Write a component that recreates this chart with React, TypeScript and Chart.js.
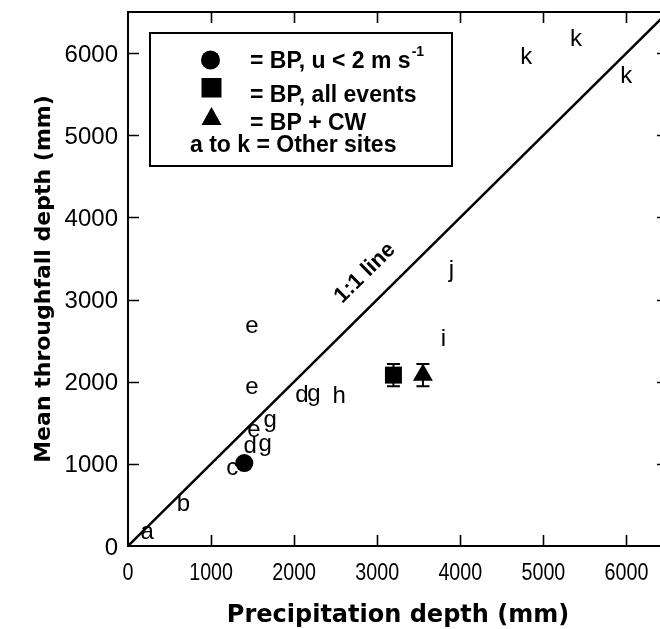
import React, { useEffect, useRef } from 'react';
import { Chart, registerables } from 'chart.js';

Chart.register(...registerables);

// ---- data ----
const axisMax = 6500;
const xTickValues = [0, 1000, 2000, 3000, 4000, 5000, 6000];
const yTickValues = [0, 1000, 2000, 3000, 4000, 5000, 6000];

const siteLetters = ['a', 'b', 'c', 'd', 'g', 'e', 'g', 'e', 'e', 'd', 'g', 'h', 'i', 'j', 'k', 'k', 'k'];
const siteX = [240, 670, 1260, 1470, 1650, 1520, 1710, 1495, 1495, 2090, 2235, 2540, 3795, 3880, 4805, 5405, 6010];
const siteY = [170, 530, 945, 1230, 1205, 1400, 1500, 1930, 2675, 1855, 1810, 1845, 2540, 3345, 5975, 6185, 5735];

const bpCalmX = [1400];
const bpCalmY = [1010];
const bpAllX = [3195];
const bpAllY = [2080];
const bpAllErr = [135];
const bpCwX = [3550];
const bpCwY = [2080];
const bpCwErr = [135];
const oneToOneLine = [0, 6500];

const legendRows = ['= BP, u < 2 m s', '= BP, all events', '= BP + CW', 'a to k = Other sites'];
const xTitle = 'Precipitation depth (mm)';
const yTitle = 'Mean throughfall depth (mm)';
const lineLabel = '1:1 line';

const SANS = '"Liberation Sans", Arial, sans-serif';

const errorBars = (chart: any, dsIndex: number, errs: number[], ys: number[]) => {
  const ctx = chart.ctx;
  const yScale = chart.scales.y;
  const meta = chart.getDatasetMeta(dsIndex);
  ctx.save();
  ctx.strokeStyle = '#000';
  ctx.lineWidth = 2;
  meta.data.forEach((pt: any, i: number) => {
    const top = yScale.getPixelForValue(ys[i] + errs[i]);
    const bot = yScale.getPixelForValue(ys[i] - errs[i]);
    ctx.beginPath();
    ctx.moveTo(pt.x, top);
    ctx.lineTo(pt.x, bot);
    ctx.moveTo(pt.x - 6.5, top);
    ctx.lineTo(pt.x + 6.5, top);
    ctx.moveTo(pt.x - 6.5, bot);
    ctx.lineTo(pt.x + 6.5, bot);
    ctx.stroke();
  });
  ctx.restore();
};

const customPlugin = {
  id: 'customDraw',
  afterDatasetDraw(chart: any, args: any) {
    const ctx = chart.ctx;
    if (args.index === 4) {
      const meta = chart.getDatasetMeta(4);
      ctx.save();
      ctx.fillStyle = '#000';
      ctx.font = '24px ' + SANS;
      ctx.textAlign = 'left';
      ctx.textBaseline = 'alphabetic';
      meta.data.forEach((pt: any, i: number) => {
        const t = siteLetters[i];
        const m = ctx.measureText(t);
        const x = pt.x - (m.actualBoundingBoxRight - m.actualBoundingBoxLeft) / 2;
        const y = pt.y + (m.actualBoundingBoxAscent - m.actualBoundingBoxDescent) / 2;
        ctx.fillText(t, x, y);
      });
      ctx.restore();
    }
    if (args.index === 3) {
      const xs = chart.scales.x;
      const ys = chart.scales.y;
      const p0x = xs.getPixelForValue(0);
      const p0y = ys.getPixelForValue(0);
      const p1x = xs.getPixelForValue(6500);
      const p1y = ys.getPixelForValue(6500);
      const ang = Math.atan2(p1y - p0y, p1x - p0x);
      ctx.save();
      ctx.translate(365, 273);
      ctx.rotate(ang);
      ctx.font = 'bold 22px ' + SANS;
      ctx.textAlign = 'center';
      ctx.textBaseline = 'middle';
      ctx.fillStyle = '#000';
      ctx.fillText(lineLabel, 0, 0);
      ctx.restore();
    }
  },
  beforeDatasetDraw(chart: any, args: any) {
    if (args.index === 1) errorBars(chart, 1, bpAllErr, bpAllY);
    if (args.index === 2) errorBars(chart, 2, bpCwErr, bpCwY);
  },
  afterDraw(chart: any) {
    const ctx = chart.ctx;
    const { left, right, top, bottom } = chart.chartArea;
    const xs = chart.scales.x;
    const ys = chart.scales.y;
    ctx.save();
    ctx.strokeStyle = '#000';
    ctx.lineWidth = 2;
    ctx.strokeRect(left, top, right - left, bottom - top);
    ctx.lineWidth = 1.6;
    ctx.beginPath();
    xTickValues.forEach((v) => {
      if (v === 0) return;
      const px = Math.round(xs.getPixelForValue(v)) + 0.5;
      ctx.moveTo(px, bottom);
      ctx.lineTo(px, bottom - 11);
      ctx.moveTo(px, top);
      ctx.lineTo(px, top + 11);
    });
    yTickValues.forEach((v) => {
      if (v === 0) return;
      const py = Math.round(ys.getPixelForValue(v)) + 0.5;
      ctx.moveTo(left, py);
      ctx.lineTo(left + 11, py);
      ctx.moveTo(right, py);
      ctx.lineTo(right - 11, py);
    });
    ctx.stroke();

    // tick labels
    ctx.fillStyle = '#000';
    ctx.font = '24px ' + SANS;
    ctx.textBaseline = 'alphabetic';
    xTickValues.forEach((v) => {
      const px = xs.getPixelForValue(v);
      ctx.save();
      ctx.translate(px, 580);
      ctx.scale(0.82, 1);
      ctx.textAlign = 'center';
      ctx.fillText(String(v), 0, 0);
      ctx.restore();
    });
    ctx.textAlign = 'right';
    yTickValues.forEach((v) => {
      const py = ys.getPixelForValue(v);
      ctx.fillText(String(v), 118, py + 8.6);
    });

    // axis titles
    ctx.font = 'bold 24px "DejaVu Sans", sans-serif';
    ctx.textAlign = 'center';
    ctx.fillText(xTitle, (left + right) / 2, 622);
    ctx.save();
    ctx.translate(50, 279);
    ctx.rotate(-Math.PI / 2);
    ctx.font = 'bold 22px "DejaVu Sans", sans-serif';
    ctx.fillText(yTitle, 0, 0);
    ctx.restore();

    // legend
    ctx.lineWidth = 2;
    ctx.strokeRect(150, 33, 302, 133);
    ctx.beginPath();
    ctx.arc(210.5, 60, 9.5, 0, Math.PI * 2);
    ctx.fill();
    ctx.fillRect(201.5, 78, 20, 19.5);
    ctx.beginPath();
    ctx.moveTo(211.5, 107);
    ctx.lineTo(221.5, 125);
    ctx.lineTo(201.5, 125);
    ctx.closePath();
    ctx.fill();
    ctx.font = 'bold 23px ' + SANS;
    ctx.textAlign = 'left';
    ctx.fillText(legendRows[0], 250, 68);
    const w0 = ctx.measureText(legendRows[0]).width;
    ctx.fillText(legendRows[1], 250, 102);
    ctx.fillText(legendRows[2], 250, 130);
    ctx.fillText(legendRows[3], 190, 152);
    ctx.font = 'bold 14px ' + SANS;
    ctx.fillText('-1', 250 + w0 + 1, 56);
    ctx.restore();
  },
};

export default function App() {
  const canvasRef = useRef<HTMLCanvasElement | null>(null);

  useEffect(() => {
    const canvas = canvasRef.current;
    if (!canvas) return;
    const chart = new Chart(canvas, {
      type: 'scatter',
      data: {
        datasets: [
          {
            label: 'BP, u < 2 m s-1',
            data: bpCalmX.map((x, i) => ({ x, y: bpCalmY[i] })),
            pointStyle: 'circle',
            pointRadius: 9,
            backgroundColor: '#000',
            borderColor: '#000',
            borderWidth: 0,
          },
          {
            label: 'BP, all events',
            data: bpAllX.map((x, i) => ({ x, y: bpAllY[i] })),
            pointStyle: 'rect',
            pointRadius: 12,
            backgroundColor: '#000',
            borderColor: '#000',
            borderWidth: 0,
          },
          {
            label: 'BP + CW',
            data: bpCwX.map((x, i) => ({ x, y: bpCwY[i] })),
            pointStyle: 'triangle',
            pointRadius: 11.5,
            backgroundColor: '#000',
            borderColor: '#000',
            borderWidth: 0,
          },
          {
            label: '1:1 line',
            type: 'line',
            data: oneToOneLine.map((v) => ({ x: v, y: v })),
            borderColor: '#000',
            borderWidth: 2.5,
            pointRadius: 0,
            fill: false,
          } as any,
          {
            label: 'Other sites',
            data: siteX.map((x, i) => ({ x, y: siteY[i] })),
            pointRadius: 0,
            backgroundColor: '#000',
          },
        ],
      },
      options: {
        animation: false,
        responsive: false,
        devicePixelRatio: 1,
        layout: { padding: { left: 0, top: 6, right: 12, bottom: 0 } },
        plugins: { legend: { display: false }, tooltip: { enabled: false } },
        scales: {
          x: {
            type: 'linear',
            min: 0,
            max: axisMax,
            grid: { display: false, drawTicks: false },
            border: { display: false },
            afterBuildTicks: (s: any) => {
              s.ticks = xTickValues.map((v) => ({ value: v }));
            },
            afterFit: (s: any) => {
              s.height = 83;
              s.paddingLeft = 0;
              s.paddingRight = 0;
              s.paddingTop = 0;
              s.paddingBottom = 0;
            },
            ticks: { display: false },
          },
          y: {
            type: 'linear',
            min: 0,
            max: axisMax,
            grid: { display: false, drawTicks: false },
            border: { display: false },
            afterBuildTicks: (s: any) => {
              s.ticks = yTickValues.map((v) => ({ value: v }));
            },
            afterFit: (s: any) => {
              s.width = 128;
              s.paddingLeft = 0;
              s.paddingRight = 0;
              s.paddingTop = 0;
              s.paddingBottom = 0;
            },
            ticks: { display: false },
          },
        },
      },
      plugins: [customPlugin],
    });
    return () => chart.destroy();
  }, []);

  return (
    <div
      style={{
        position: 'fixed',
        left: 0,
        top: 0,
        width: 660,
        height: 629,
        overflow: 'hidden',
        background: '#fff',
      }}
    >
      <canvas ref={canvasRef} width={680} height={629} style={{ display: 'block', width: 680, height: 629 }} />
    </div>
  );
}
